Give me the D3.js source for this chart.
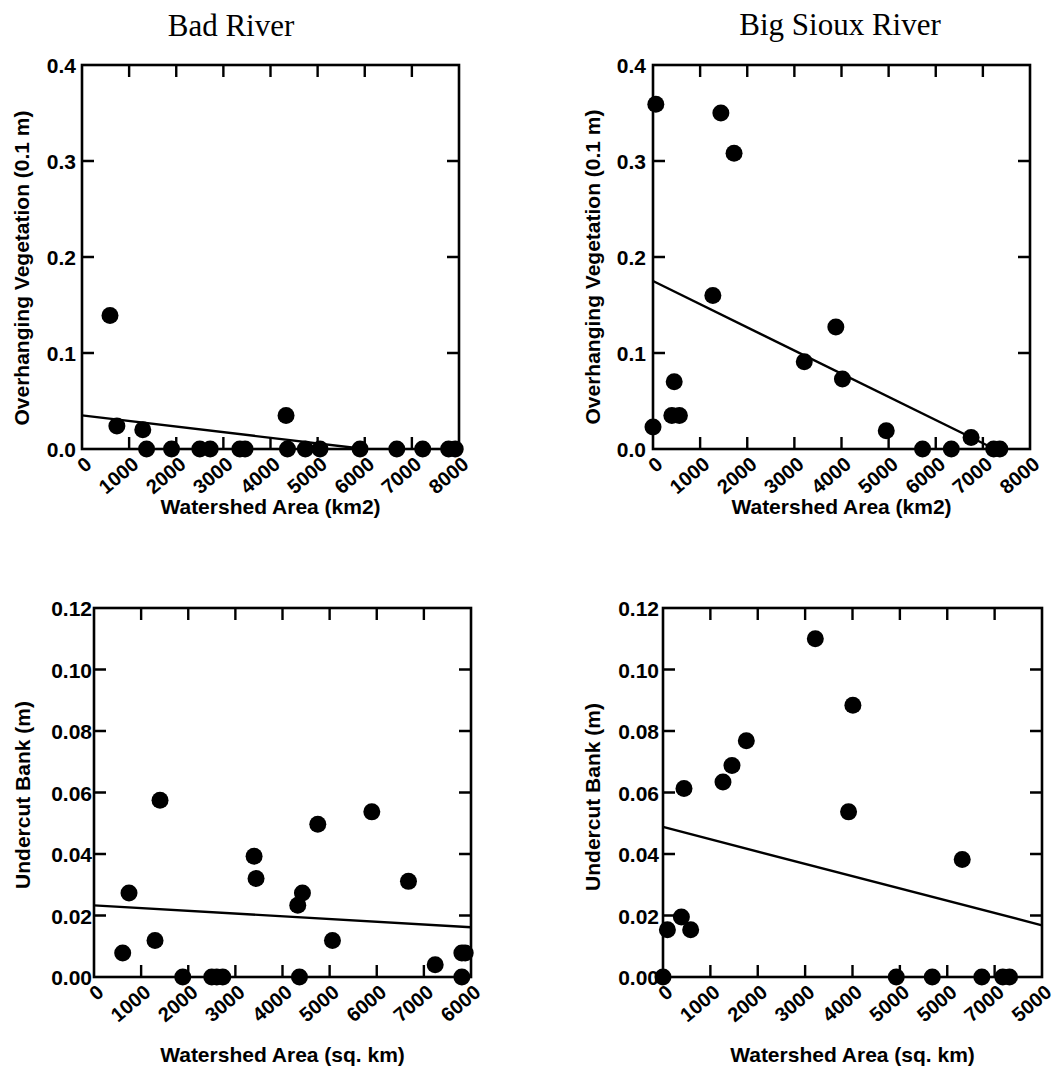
<!DOCTYPE html>
<html>
<head>
<meta charset="utf-8">
<script src="https://cdn.jsdelivr.net/npm/d3@7"></script>
<style>
  html, body { margin: 0; padding: 0; background: #fff; }
  svg { display: block; }
  .tick text { font-family: "Liberation Sans", Arial, sans-serif; font-weight: bold; fill: #000; }
</style>
</head>
<body>
<svg id="chart" width="1060" height="1072"></svg>
<script>
// ---------- data ----------
const riverTitles = ["Bad River", "Big Sioux River"];

const xTickValues = [0, 1000, 2000, 3000, 4000, 5000, 6000, 7000, 8000];
const badVegXLabels   = ["0", "1000", "2000", "3000", "4000", "5000", "6000", "7000", "8000"];
const siouxVegXLabels = ["0", "1000", "2000", "3000", "4000", "5000", "6000", "7000", "8000"];
const badUndXLabels   = ["0", "1000", "2000", "3000", "4000", "5000", "6000", "7000", "6000"];
const siouxUndXLabels = ["0", "1000", "2000", "3000", "4000", "5000", "5000", "7000", "5000"];

const vegYTicks  = [0, 0.1, 0.2, 0.3, 0.4];
const vegYLabels = ["0.0", "0.1", "0.2", "0.3", "0.4"];
const undYTicks  = [0, 0.02, 0.04, 0.06, 0.08, 0.10, 0.12];
const undYLabels = ["0.00", "0.02", "0.04", "0.06", "0.08", "0.10", "0.12"];

const vegYTitle = "Overhanging Vegetation (0.1 m)";
const undYTitle = "Undercut Bank (m)";
const vegXTitle = "Watershed Area (km2)";
const undXTitle = "Watershed Area (sq. km)";

// Bad River – overhanging vegetation
const badVegX = [594, 740, 1290, 1370, 1900, 2500, 2720, 3350, 3460, 4330, 4360, 4740, 5050, 5900, 6680, 7230, 7780, 7920];
const badVegY = [0.139, 0.024, 0.020, 0, 0, 0, 0, 0, 0, 0.035, 0, 0, 0, 0, 0, 0, 0, 0];
const badVegFitX = [0, 6000];
const badVegFitY = [0.035, 0];

// Big Sioux River – overhanging vegetation
const siouxVegX = [0, 60, 400, 450, 560, 1270, 1440, 1720, 3210, 3880, 4020, 4950, 5720, 6330, 6750, 7230, 7360];
const siouxVegY = [0.023, 0.359, 0.035, 0.070, 0.035, 0.160, 0.350, 0.308, 0.091, 0.127, 0.073, 0.019, 0, 0, 0.012, 0, 0];
const siouxVegFitX = [0, 7250];
const siouxVegFitY = [0.175, 0];

// Bad River – undercut bank
const badUndX = [609, 743, 1295, 1401, 1883, 2499, 2605, 2732, 3397, 3439, 4324, 4423, 4360, 4749, 5060, 5895, 6673, 7240, 7806, 7877, 7806];
const badUndY = [0.0078, 0.0273, 0.0119, 0.0575, 0, 0, 0, 0, 0.0393, 0.032, 0.0233, 0.0273, 0, 0.0497, 0.0119, 0.0537, 0.0311, 0.0040, 0.0078, 0.0078, 0];
const badUndFitX = [0, 8000];
const badUndFitY = [0.0233, 0.0162];

// Big Sioux River – undercut bank
const siouxUndX = [0, 93, 388, 443, 584, 1266, 1456, 1759, 3215, 3917, 4008, 4924, 5684, 6316, 6730, 7173, 7314];
const siouxUndY = [0, 0.0154, 0.0195, 0.0613, 0.0154, 0.0634, 0.0688, 0.0768, 0.110, 0.0537, 0.0884, 0, 0, 0.0382, 0, 0, 0];
const siouxUndFitX = [0, 8000];
const siouxUndFitY = [0.0488, 0.0168];

// ---------- layout ----------
const panels = [
  { box: [82, 459, 65, 449],  yMax: 0.4,  yTicks: vegYTicks, yLabels: vegYLabels, xLabels: badVegXLabels,
    xs: badVegX, ys: badVegY, fx: badVegFitX, fy: badVegFitY, yTitle: vegYTitle, xTitle: vegXTitle,
    yTitlePos: [22, 268], xTitleY: 514, yLabGap: 6 },
  { box: [653, 1030, 65, 449], yMax: 0.4, yTicks: vegYTicks, yLabels: vegYLabels, xLabels: siouxVegXLabels,
    xs: siouxVegX, ys: siouxVegY, fx: siouxVegFitX, fy: siouxVegFitY, yTitle: vegYTitle, xTitle: vegXTitle,
    yTitlePos: [593, 267], xTitleY: 514, yLabGap: 7 },
  { box: [94, 471, 608, 977], yMax: 0.12, yTicks: undYTicks, yLabels: undYLabels, xLabels: badUndXLabels,
    xs: badUndX, ys: badUndY, fx: badUndFitX, fy: badUndFitY, yTitle: undYTitle, xTitle: undXTitle,
    yTitlePos: [23, 795], xTitleY: 1062, yLabGap: 2 },
  { box: [663, 1042, 608, 977], yMax: 0.12, yTicks: undYTicks, yLabels: undYLabels, xLabels: siouxUndXLabels,
    xs: siouxUndX, ys: siouxUndY, fx: siouxUndFitX, fy: siouxUndFitY, yTitle: undYTitle, xTitle: undXTitle,
    yTitlePos: [593, 797], xTitleY: 1062, yLabGap: 4 }
];

const svg = d3.select("#chart");
const TICK = 12;
const SANS = "'Liberation Sans', Arial, sans-serif";
const SERIF = "'Liberation Serif', 'Times New Roman', serif";

// titles
svg.append("text").attr("x", 231).attr("y", 36).attr("text-anchor", "middle")
  .attr("font-family", SERIF).attr("font-size", 31).text(riverTitles[0]);
svg.append("text").attr("x", 840).attr("y", 35).attr("text-anchor", "middle")
  .attr("font-family", SERIF).attr("font-size", 31).text(riverTitles[1]);

panels.forEach(p => {
  const [x0, x1, y0, y1] = p.box;
  const x = d3.scaleLinear().domain([0, 8000]).range([x0, x1]);
  const y = d3.scaleLinear().domain([0, p.yMax]).range([y1, y0]);
  const g = svg.append("g");

  // bottom axis labels (rotated) via d3 axis
  const bottom = g.append("g").attr("transform", `translate(0,${y1})`)
    .call(d3.axisBottom(x).tickValues(xTickValues).tickSize(0).tickPadding(0)
      .tickFormat((d, i) => p.xLabels[i]));
  bottom.selectAll(".tick text")
    .attr("font-size", 20)
    .attr("text-anchor", "end")
    .attr("x", 0).attr("y", 0).attr("dy", "0.35em")
    .attr("transform", "translate(6,12) rotate(-40)");

  // left axis labels via d3 axis
  const left = g.append("g").attr("transform", `translate(${x0},0)`)
    .call(d3.axisLeft(y).tickValues(p.yTicks).tickSize(0).tickPadding(p.yLabGap)
      .tickFormat((d, i) => p.yLabels[i]));
  left.selectAll(".tick text").attr("font-size", 21).attr("dy", "0.36em");

  g.selectAll(".domain").remove();
  g.selectAll(".tick line").remove();

  // inward tick marks on all four sides, drawn as one path
  const innerX = xTickValues.slice(1, -1);
  const innerY = p.yTicks.slice(1, -1);
  const path = d3.path();
  innerX.forEach(v => {
    const px = x(v);
    path.moveTo(px, y1); path.lineTo(px, y1 - TICK);
    path.moveTo(px, y0); path.lineTo(px, y0 + TICK);
  });
  innerY.forEach(v => {
    const py = y(v);
    path.moveTo(x0, py); path.lineTo(x0 + TICK, py);
    path.moveTo(x1, py); path.lineTo(x1 - TICK, py);
  });
  g.append("path").attr("d", path.toString())
    .attr("fill", "none").attr("stroke", "#000").attr("stroke-width", 2.4);

  // frame
  g.append("rect").attr("x", x0).attr("y", y0).attr("width", x1 - x0).attr("height", y1 - y0)
    .attr("fill", "none").attr("stroke", "#000").attr("stroke-width", 2.6);

  // regression line
  const line = d3.line().x(d => x(d[0])).y(d => y(d[1]));
  g.append("path").datum(p.fx.map((v, i) => [v, p.fy[i]]))
    .attr("d", line).attr("fill", "none").attr("stroke", "#000").attr("stroke-width", 2.4);

  // points
  g.selectAll("circle.pt").data(p.xs.map((v, i) => [v, p.ys[i]])).enter()
    .append("circle").attr("class", "pt")
    .attr("cx", d => x(d[0])).attr("cy", d => y(d[1])).attr("r", 8.5).attr("fill", "#000");

  // axis titles
  svg.append("text")
    .attr("transform", `translate(${p.yTitlePos[0]},${p.yTitlePos[1]}) rotate(-90)`)
    .attr("text-anchor", "middle").attr("dy", "0.35em")
    .attr("font-family", SANS).attr("font-weight", "bold").attr("font-size", 21)
    .text(p.yTitle);
  svg.append("text")
    .attr("x", (x0 + x1) / 2).attr("y", p.xTitleY).attr("text-anchor", "middle")
    .attr("font-family", SANS).attr("font-weight", "bold").attr("font-size", 21)
    .text(p.xTitle);
});
</script>
</body>
</html>
